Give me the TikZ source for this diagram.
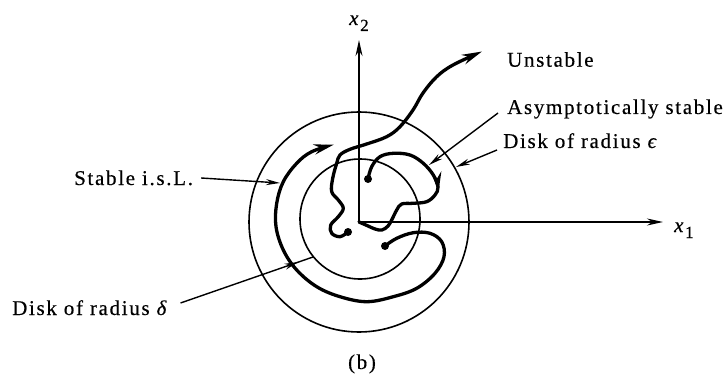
\documentclass[tikz,border=0pt]{standalone}
\usepackage{fontspec}
\setmainfont{Liberation Serif}[LetterSpace=8,FakeBold=0.4]
\usetikzlibrary{arrows.meta,decorations.markings}
\newcommand{\axlab}[2]{\textit{#1}\raisebox{-6pt}{\fontsize{17}{17}\selectfont #2}}
\begin{document}
\begin{tikzpicture}[x=1pt,y=-1pt,
  lbl/.style={font=\fontsize{21}{24}\selectfont, inner sep=0pt},
  thin/.style={line width=1.6pt},
  traj/.style={line width=3.3pt, line cap=round, line join=round},
  tarrow/.style={-{Stealth[length=20pt,width=10pt]}},
  leader/.style={line width=1.4pt, -{Stealth[length=14pt,width=6pt]}},
  dot/.style={circle, fill=black, inner sep=0pt, minimum size=8pt}]
\useasboundingbox (0,0) rectangle (728,377);
% axes
\coordinate (O) at (359,222);
\coordinate (x2tip) at (359,40);
\coordinate (x1tip) at (663,222);
\draw[thin, -{Stealth[length=16pt,width=7pt]}] (O) -- (x2tip);
\draw[thin, -{Stealth[length=16pt,width=7pt]}] (O) -- (x1tip);
\node[lbl, anchor=base west] (x2) at (349,25) {\axlab{x}{2}};
\node[lbl, anchor=base west] (x1) at (674,232) {\axlab{x}{1}};
% circles
\node[draw, thin, circle, minimum size=220pt, inner sep=0pt] (outer) at (359,222) {};
\node[draw, thin, circle, minimum size=120pt, inner sep=0pt] (inner) at (360,219) {};
% dots
\node[dot] (dS) at (385,246) {};
\node[dot] (dU) at (348,232) {};
\node[dot] (dA) at (368,179) {};
% unstable
\draw[traj, tarrow] plot[smooth, tension=0.6] coordinates {
 (348,232) (340,236.7) (331.7,233.3) (330.7,225) (338.3,216.7) (343.3,208.3)
 (338.3,200) (331.7,191.7) (332.7,178.3) (336.7,163.3) (340,155) (350,149.3)
 (366.7,144) (386.7,136.7) (400,126.7) (413,110) (423,93) (436.7,76.7) (453,65) (482,51.5)};
% asymptotically stable
\draw[traj] plot[smooth, tension=0.6] coordinates {
 (368,179) (371.7,166.7) (380,156.7) (393.3,153.3) (410,155) (423.3,163.3)
 (433.3,175) (438,187) (435,195) (426.7,201.7) (413.3,203.3) (401.7,204)
 (396.7,210) (391.7,220) (388,226) (382,230) (375,229) (367,225.5) (359,222)};
\draw[traj, tarrow] (437.5,183) -- (438.5,192);
% stable i.s.L.
\draw[traj, tarrow] plot[smooth, tension=0.6] coordinates {
 (385,246) (396.7,238.3) (413.3,232.7) (430,233.3) (441.7,241.7) (444,256.7)
 (435,273.3) (416.7,288.3) (393.3,296.7) (366.7,301.7) (340,296.7) (316.7,286.7)
 (296.7,270) (283.3,250) (276,226.7) (276.7,203.3) (283.3,181.7) (296.7,163.3)
 (311.7,151.7) (334,144.5)};
% labels
\node[lbl, anchor=base west] (unst) at (507,66.7) {Unstable};
\node[lbl, anchor=base west] (asym) at (507,114) {Asymptotically stable};
\node[lbl, anchor=base west] (deps) at (503,148) {Disk of radius \textit{ϵ}};
\node[lbl, anchor=base west] (stab) at (74,185) {Stable i.s.L.};
\node[lbl, anchor=base west] (ddel) at (12,315) {Disk of radius \textit{δ}};
\node[lbl, anchor=base] (b) at (362,369) {(b)};
% leaders
\coordinate (pA) at (429,165);
\coordinate (pE) at (456,167);
\coordinate (pS) at (280,183);
\coordinate (pD) at (313,257);
\draw[leader] (asym.base west) ++(-9,-1) -- (pA);
\draw[leader] (deps.base west) ++(-6,2) -- (pE);
\draw[leader] (stab.base east) ++(8,-7) -- (pS);
\draw[line width=1.4pt, postaction={decorate}, decoration={markings,
  mark=at position 0.89 with {\arrow{Stealth[length=14pt,width=6pt]}}}]
  (ddel.base east) ++(12,-12) -- (pD);
\end{tikzpicture}
\end{document}
